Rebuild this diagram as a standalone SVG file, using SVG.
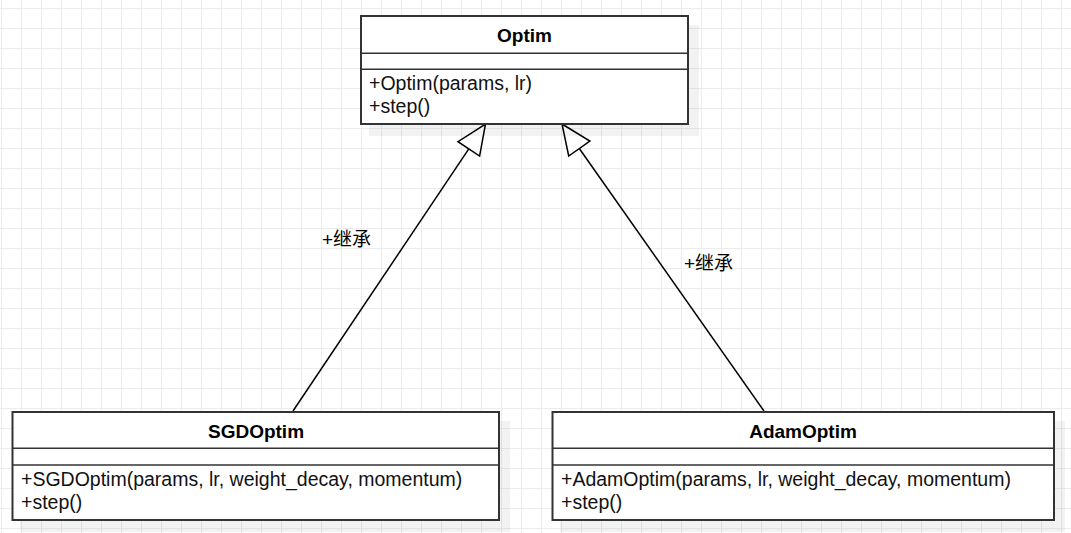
<svg xmlns="http://www.w3.org/2000/svg" width="1071" height="533" viewBox="0 0 1071 533">
  <style>
    .box { fill: #ffffff; stroke: #333333; stroke-width: 2; }
    .shadow { fill: #000000; opacity: 0.05; }
    .div { stroke: #333333; stroke-width: 1.5; }
    .title { font-family: "Liberation Sans", Arial, sans-serif; font-size: 19px; font-weight: bold; fill: #000000; text-anchor: middle; }
    .meth { font-family: "Liberation Sans", Arial, sans-serif; font-size: 19.5px; fill: #111111; }
    .lbl { font-family: "Liberation Sans", "Noto Sans CJK SC", sans-serif; font-size: 19px; fill: #000000; }
    .edge { stroke: #000000; stroke-width: 1.5; fill: none; }
    .head { stroke: #000000; stroke-width: 1.5; fill: #ffffff; stroke-linejoin: miter; }
  </style>
  <defs>
    <pattern id="grid" patternUnits="userSpaceOnUse" x="1" y="8" width="20" height="20">
      <path d="M0 0.5 H20 M0.5 0 V20" stroke="#ececec" stroke-width="1" fill="none"/>
    </pattern>
  </defs>
  <rect x="0" y="0" width="1071" height="533" fill="#ffffff"/>
  <rect x="0" y="0" width="1071" height="533" fill="url(#grid)"/>

  <g id="connectors">
    <g id="edge-sgd">
      <line class="edge" x1="293" y1="411" x2="468.8" y2="148.9"/>
      <polygon class="head" points="485.5,124 479.6,156.1 458.0,141.7"/>
      <text class="lbl" x="322" y="246">+继承</text>
    </g>
    <g id="edge-adam">
      <line class="edge" x1="764" y1="411" x2="579.3" y2="148.5"/>
      <polygon class="head" points="562,124 589.9,141.0 568.7,156.0"/>
      <text class="lbl" x="684" y="270">+继承</text>
    </g>
  </g>

  <g id="optim">
    <rect class="shadow" x="369" y="25" width="330" height="111"/>
    <rect class="box" x="361" y="16" width="327" height="108"/>
    <line class="div" x1="361" y1="53.3" x2="688" y2="53.3"/>
    <line class="div" x1="361" y1="69.3" x2="688" y2="69.3"/>
    <text class="title" x="524.5" y="42">Optim</text>
    <text class="meth" x="369" y="90">+Optim(params, lr)</text>
    <text class="meth" x="369" y="113">+step()</text>
  </g>

  <g id="sgdoptim">
    <rect class="shadow" x="20" y="421" width="490" height="111"/>
    <rect class="box" x="12.5" y="412" width="486.5" height="108"/>
    <line class="div" x1="12.5" y1="448.3" x2="499" y2="448.3"/>
    <line class="div" x1="12.5" y1="465" x2="499" y2="465"/>
    <text class="title" x="256" y="438">SGDOptim</text>
    <text class="meth" x="21" y="486">+SGDOptim(params, lr, weight_decay, momentum)</text>
    <text class="meth" x="21" y="509">+step()</text>
  </g>

  <g id="adamoptim">
    <rect class="shadow" x="560" y="421" width="505" height="111"/>
    <rect class="box" x="552.5" y="412" width="501.5" height="108"/>
    <line class="div" x1="552.5" y1="448.3" x2="1054" y2="448.3"/>
    <line class="div" x1="552.5" y1="465" x2="1054" y2="465"/>
    <text class="title" x="803" y="438">AdamOptim</text>
    <text class="meth" x="561" y="486">+AdamOptim(params, lr, weight_decay, momentum)</text>
    <text class="meth" x="561" y="509">+step()</text>
  </g>
</svg>
